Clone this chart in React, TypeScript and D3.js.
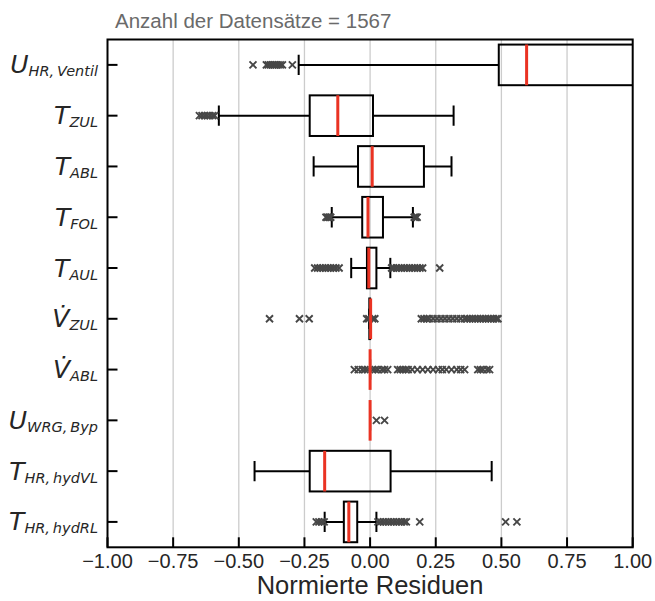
import React, { useEffect, useRef } from "react";
import * as d3 from "d3";

// row labels: main symbol, subscript, dot over symbol
const labelMain = ["U", "T", "T", "T", "T", "V", "V", "U", "T", "T"];
const labelSub = ["HR,\u2009Ventil", "ZUL", "ABL", "FOL", "AUL", "ZUL", "ABL", "WRG,\u2009Byp", "HR,\u2009hydVL", "HR,\u2009hydRL"];
const labelDot = [false, false, false, false, false, true, true, false, false, false];

// box statistics (normierte Residuen)
const whiskLo = [-0.272, -0.576, -0.215, -0.146, -0.072, -0.003, 0, 0, -0.44, -0.173];
const q1 = [0.49, -0.23, -0.046, -0.03, -0.012, -0.003, 0, 0, -0.23, -0.1];
const median = [0.596, -0.123, 0.008, -0.008, -0.005, 0.002, 0, 0, -0.173, -0.081];
const q3 = [1.05, 0.011, 0.205, 0.049, 0.024, 0, 0, 0, 0.078, -0.049];
const whiskHi = [1.3, 0.318, 0.31, 0.163, 0.077, 0, 0, 0, 0.463, 0.024];

const outliers: number[][] = [
  [-0.446, -0.395, -0.388, -0.38, -0.372, -0.365, -0.358, -0.35, -0.342, -0.334, -0.296],
  [-0.65, -0.64, -0.63, -0.62, -0.61, -0.6, -0.592],
  [],
  [-0.168, -0.162, -0.156, -0.15, 0.168, 0.173, 0.179],
  [-0.211, -0.2, -0.19, -0.18, -0.17, -0.16, -0.15, -0.14, -0.13, -0.118,
    0.082, 0.09, 0.1, 0.11, 0.12, 0.13, 0.14, 0.15, 0.16, 0.17, 0.18, 0.19, 0.2, 0.265],
  [-0.383, -0.269, -0.232, -0.013, -0.005, 0.01, 0.018,
    0.195, 0.205, 0.215, 0.225, 0.24, 0.255, 0.27, 0.285, 0.3, 0.315, 0.33, 0.345, 0.36,
    0.37, 0.38, 0.39, 0.4, 0.41, 0.42, 0.43, 0.44, 0.45, 0.46, 0.47, 0.48, 0.487],
  [-0.06, -0.045, -0.03, -0.02, -0.01, 0.01, 0.02, 0.03, 0.045, 0.055, 0.067,
    0.105, 0.115, 0.125, 0.135, 0.145, 0.16, 0.18, 0.2, 0.22, 0.24, 0.26, 0.275, 0.29, 0.31, 0.33, 0.345, 0.36,
    0.41, 0.42, 0.43, 0.445, 0.455],
  [0.024, 0.055],
  [],
  [-0.205, -0.195, -0.185, -0.175, 0.03, 0.04, 0.05, 0.06, 0.07, 0.08, 0.09, 0.1, 0.11, 0.12, 0.13, 0.138,
    0.189, 0.516, 0.559],
];

const xTicks = [-1, -0.75, -0.5, -0.25, 0, 0.25, 0.5, 0.75, 1];

export default function App() {
  const svgRef = useRef<SVGSVGElement>(null);

  useEffect(() => {
    if (!svgRef.current) return;
    const svg = d3.select(svgRef.current);
    svg.selectAll("*").remove();

    const left = 107.5, right = 632.7, top = 39.5, bottom = 547.3;

    const x = d3.scaleLinear().domain([-1, 1]).range([left, right]);
    const y = d3.scaleBand<number>().domain(d3.range(labelMain.length)).range([top, bottom]);
    const bw = y.bandwidth() * 0.8;
    const cy = (i: number) => (y(i) as number) + y.bandwidth() / 2;

    svg.append("defs").append("clipPath").attr("id", "plotclip")
      .append("rect").attr("x", left).attr("y", top).attr("width", right - left).attr("height", bottom - top);

    // grid
    svg.append("g").selectAll("line")
      .data(xTicks.slice(1, -1))
      .join("line")
      .attr("x1", (d) => x(d)).attr("x2", (d) => x(d))
      .attr("y1", top).attr("y2", bottom)
      .attr("stroke", "#cccccc").attr("stroke-width", 1.3);

    const g = svg.append("g").attr("clip-path", "url(#plotclip)");

    labelMain.forEach((_, i) => {
      const c = cy(i);
      // whiskers
      g.append("line").attr("x1", x(whiskLo[i])).attr("x2", x(q1[i]))
        .attr("y1", c).attr("y2", c).attr("stroke", "#000").attr("stroke-width", 2);
      g.append("line").attr("x1", x(q3[i])).attr("x2", x(whiskHi[i]))
        .attr("y1", c).attr("y2", c).attr("stroke", "#000").attr("stroke-width", 2);
      [whiskLo[i], whiskHi[i]].forEach((v) => {
        g.append("line").attr("x1", x(v)).attr("x2", x(v))
          .attr("y1", c - bw / 4).attr("y2", c + bw / 4)
          .attr("stroke", "#000").attr("stroke-width", 2);
      });
      // box
      g.append("rect")
        .attr("x", x(q1[i])).attr("y", c - bw / 2)
        .attr("width", Math.max(0, x(q3[i]) - x(q1[i]))).attr("height", bw)
        .attr("fill", "none").attr("stroke", "#000").attr("stroke-width", 2);
      // outliers
      const s = 3.5;
      outliers[i].forEach((v) => {
        const px = x(v);
        g.append("path")
          .attr("d", `M${px - s},${c - s}L${px + s},${c + s}M${px - s},${c + s}L${px + s},${c - s}`)
          .attr("stroke", "#474747").attr("stroke-width", 1.9).attr("fill", "none");
      });
      // median
      g.append("line").attr("x1", x(median[i])).attr("x2", x(median[i]))
        .attr("y1", c - bw / 2).attr("y2", c + bw / 2)
        .attr("stroke", "#ea3323").attr("stroke-width", 3);
    });

    // frame
    svg.append("rect").attr("x", left).attr("y", top).attr("width", right - left).attr("height", bottom - top)
      .attr("fill", "none").attr("stroke", "#000").attr("stroke-width", 2);

    // x ticks (inward)
    svg.append("g").selectAll("line").data(xTicks).join("line")
      .attr("x1", (d) => x(d)).attr("x2", (d) => x(d))
      .attr("y1", bottom - 10).attr("y2", bottom)
      .attr("stroke", "#000").attr("stroke-width", 2);
    svg.append("g").selectAll("text").data(xTicks).join("text")
      .attr("x", (d) => x(d)).attr("y", 568)
      .attr("text-anchor", "middle")
      .attr("font-family", "'Liberation Sans', Arial, sans-serif")
      .attr("font-size", 20).attr("fill", "#262626")
      .text((d) => d3.format(".2f")(d).replace("-", "\u2212"));

    // y ticks (inward)
    svg.append("g").selectAll("line").data(d3.range(labelMain.length)).join("line")
      .attr("x1", left).attr("x2", left + 10)
      .attr("y1", (i) => cy(i)).attr("y2", (i) => cy(i))
      .attr("stroke", "#000").attr("stroke-width", 2);

    // y labels
    labelMain.forEach((m, i) => {
      const t = svg.append("text")
        .attr("x", 98).attr("y", cy(i) + 8.5)
        .attr("text-anchor", "end")
        .attr("font-family", "'DejaVu Sans', sans-serif")
        .attr("font-style", "italic").attr("fill", "#262626");
      t.append("tspan").attr("font-size", 25).text(labelDot[i] ? m + "\u0307" : m);
      t.append("tspan").attr("font-size", 14.5).attr("dy", 3).text(labelSub[i]);
    });

    // axis title
    svg.append("text").attr("x", x(0)).attr("y", 594)
      .attr("text-anchor", "middle")
      .attr("font-family", "'Liberation Sans', Arial, sans-serif")
      .attr("font-size", 25.5).attr("fill", "#262626")
      .text("Normierte Residuen");

    // title
    svg.append("text").attr("x", 115).attr("y", 28)
      .attr("font-family", "'Liberation Sans', Arial, sans-serif")
      .attr("font-size", 20.5).attr("fill", "#6a6a6a")
      .text("Anzahl der Datensätze = 1567");
  }, []);

  return (
    <svg
      ref={svgRef}
      width={655}
      height={601}
      style={{ position: "absolute", left: 0, top: 0, background: "#fff" }}
    />
  );
}
